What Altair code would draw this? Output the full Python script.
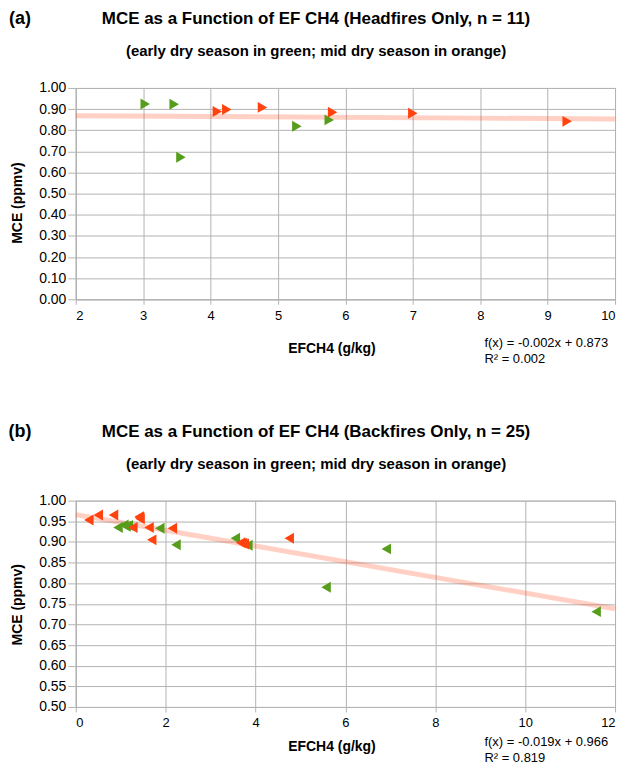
import altair as alt
import pandas as pd

# (a) headfires: EF CH4 (g/kg) vs MCE
head_early_x = [3.03, 3.46, 3.56, 5.28, 5.76]
head_early_y = [0.924, 0.923, 0.672, 0.819, 0.849]
head_mid_x = [4.10, 4.24, 4.77, 5.81, 7.00, 9.29]
head_mid_y = [0.889, 0.898, 0.908, 0.885, 0.880, 0.842]
head_fit = [-0.002, 0.873]
head_r2 = 0.002
head_xticks = [2, 3, 4, 5, 6, 7, 8, 9, 10]
head_yticks = [0.0, 0.1, 0.2, 0.3, 0.4, 0.5, 0.6, 0.7, 0.8, 0.9, 1.0]

# (b) backfires
back_early_x = [0.94, 1.07, 1.12, 1.17, 1.87, 2.23, 3.55, 3.83, 5.57, 6.91, 11.58]
back_early_y = [0.935, 0.941, 0.938, 0.940, 0.933, 0.893, 0.909, 0.892, 0.790, 0.883, 0.731]
back_mid_x = [0.29, 0.50, 0.84, 1.41, 1.43, 1.42, 1.27, 1.63, 2.15, 1.69, 3.67, 3.71, 3.75, 4.75]
back_mid_y = [0.953, 0.965, 0.965, 0.961, 0.956, 0.959, 0.935, 0.935, 0.933, 0.905, 0.898, 0.897, 0.895, 0.909]
back_fit = [-0.019, 0.966]
back_r2 = 0.819
back_xticks = [0, 2, 4, 6, 8, 10, 12]
back_yticks = [0.50, 0.55, 0.60, 0.65, 0.70, 0.75, 0.80, 0.85, 0.90, 0.95, 1.00]

GREEN = "#579d1c"
ORANGE = "#ff420e"
GRID = "#b3b3b3"
FONT = "Liberation Sans"


def season_frame(early_x, early_y, mid_x, mid_y, green_on_top):
    early = pd.DataFrame({"ef": early_x, "mce": early_y, "season": "early"})
    mid = pd.DataFrame({"ef": mid_x, "mce": mid_y, "season": "mid"})
    # later rows are drawn on top
    parts = [mid, early] if green_on_top else [early, mid]
    return pd.concat(parts, ignore_index=True)


def panel(tag, title, df, fit, r2, xticks, yticks, shape, w, h, ytitle_y, foot):
    xdom = [xticks[0], xticks[-1]]
    ydom = [yticks[0], yticks[-1]]
    x_enc = alt.X("ef:Q", scale=alt.Scale(domain=xdom, nice=False, zero=False),
                  axis=alt.Axis(values=xticks, format="d", title="EFCH4 (g/kg)",
                                titleX=w / 2 - 14, titleY=foot + 5, titleBaseline="middle",
                                tickSize=5, labelPadding=5, labelFontSize=13))
    y_enc = alt.Y("mce:Q", scale=alt.Scale(domain=ydom, nice=False, zero=False),
                  axis=alt.Axis(values=yticks, format=".2f", title="MCE (ppmv)",
                                titleX=-58, titleY=ytitle_y, titleBaseline="middle",
                                tickSize=8, labelPadding=2, labelFontSize=14))

    fit_df = pd.DataFrame({"ef": xdom})
    fit_df["mce"] = fit[0] * fit_df["ef"] + fit[1]

    line = (
        alt.Chart(fit_df)
        .mark_line(color=ORANGE, opacity=0.25, strokeWidth=5)
        .encode(x=x_enc, y=y_enc)
    )

    points = (
        alt.Chart(df)
        .mark_point(shape=shape, filled=True, size=120, opacity=1)
        .encode(
            x=x_enc,
            y=y_enc,
            color=alt.Color("season:N", scale=alt.Scale(
                domain=["early", "mid"], range=[GREEN, ORANGE]), legend=None),
        )
    )

    one = pd.DataFrame({"k": [0]})
    label = alt.Chart(one).mark_text(
        text=tag, font=FONT, fontSize=18, fontWeight="bold", align="center", baseline="middle"
    ).encode(x=alt.value(-56), y=alt.value(-69))
    head = alt.Chart(one).mark_text(
        text=title, font=FONT, fontSize=17, fontWeight="bold", align="center", baseline="middle"
    ).encode(x=alt.value(241), y=alt.value(-69))
    sub = alt.Chart(one).mark_text(
        text="(early dry season in green; mid dry season in orange)", font=FONT,
        fontSize=15, fontWeight="bold", align="center", baseline="middle"
    ).encode(x=alt.value(241), y=alt.value(-37))
    eq = alt.Chart(one).mark_text(
        text=[f"f(x) = {fit[0]:.3f}x + {fit[1]:.3f}", f"R² = {r2:.3f}"],
        font=FONT, fontSize=13, lineHeight=16, align="left", baseline="middle"
    ).encode(x=alt.value(410), y=alt.value(h + foot))

    return alt.layer(line, points, label, head, sub, eq).properties(width=w, height=h)


head_df = season_frame(head_early_x, head_early_y, head_mid_x, head_mid_y, True)
back_df = season_frame(back_early_x, back_early_y, back_mid_x, back_mid_y, False)

top = panel("(a)", "MCE as a Function of EF CH4 (Headfires Only, n = 11)", head_df,
            head_fit, head_r2, head_xticks, head_yticks, "triangle-right", 541, 212, 115, 44)
bottom = panel("(b)", "MCE as a Function of EF CH4 (Backfires Only, n = 25)", back_df,
               back_fit, back_r2, back_xticks, back_yticks, "triangle-left", 541, 207, 104, 35)

chart = (
    alt.vconcat(top, bottom, spacing=202, bounds="flush")
    .properties(padding=0, background="white")
    .configure_view(stroke=GRID)
    .configure_axis(
        gridColor=GRID, domainColor=GRID, tickColor=GRID,
        labelColor="black", labelFont=FONT,
        titleColor="black", titleFont=FONT, titleFontSize=14, titleFontWeight="bold",
    )
)

chart.save("out.html", embed_options={"renderer": "svg", "actions": False})
